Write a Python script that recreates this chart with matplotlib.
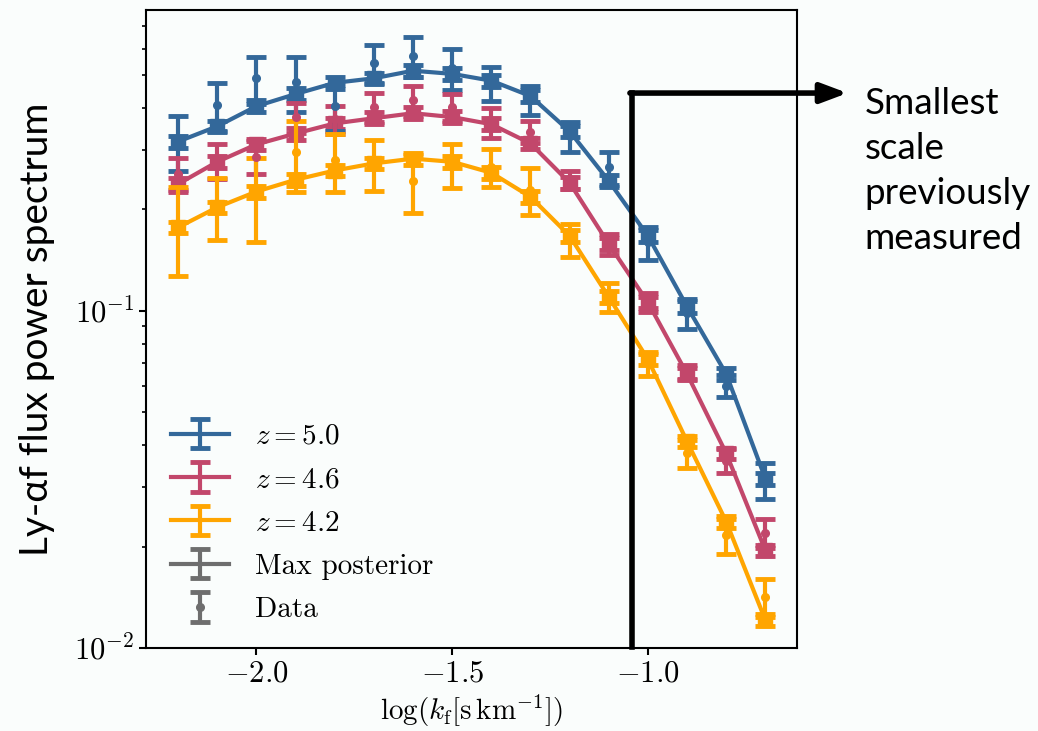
import numpy as np
import matplotlib
matplotlib.use("Agg")
from matplotlib import pyplot as plt

# log k_f bins
log_k = [-2.2, -2.1, -2.0, -1.9, -1.8, -1.7, -1.6, -1.5,
         -1.4, -1.3, -1.2, -1.1, -1.0, -0.9, -0.8, -0.7]

# max posterior (model) values
model_z50 = [0.318, 0.353, 0.405, 0.440, 0.475, 0.490, 0.516, 0.505,
             0.482, 0.434, 0.341, 0.243, 0.167, 0.103, 0.065, 0.0318]
model_z46 = [0.238, 0.277, 0.312, 0.336, 0.360, 0.373, 0.386, 0.376,
             0.358, 0.314, 0.240, 0.158, 0.106, 0.065, 0.0378, 0.0195]
model_z42 = [0.177, 0.203, 0.226, 0.245, 0.261, 0.274, 0.283, 0.277,
             0.257, 0.218, 0.167, 0.110, 0.0718, 0.041, 0.0237, 0.0121]

# data points and errors
data_z50 = [0.320, 0.408, 0.490, 0.478, 0.405, 0.545, 0.572, 0.525,
            0.475, 0.423, 0.330, 0.267, 0.160, 0.0986, 0.060, 0.0315]
err_z50 = [0.060, 0.066, 0.078, 0.090, 0.062, 0.072, 0.076, 0.072,
           0.055, 0.042, 0.033, 0.030, 0.018, 0.010, 0.0045, 0.0038]
data_z46 = [0.255, 0.280, 0.287, 0.376, 0.370, 0.403, 0.422, 0.403,
            0.362, 0.340, 0.245, 0.158, 0.106, 0.066, 0.036, 0.022]
err_z46 = [0.030, 0.033, 0.033, 0.038, 0.035, 0.040, 0.043, 0.037,
           0.037, 0.026, 0.015, 0.011, 0.007, 0.003, 0.003, 0.0022]
data_z42 = [0.180, 0.205, 0.222, 0.296, 0.281, 0.274, 0.243, 0.272,
            0.268, 0.229, 0.163, 0.110, 0.070, 0.0378, 0.0216, 0.0142]
err_z42 = [0.053, 0.043, 0.062, 0.070, 0.055, 0.047, 0.048, 0.040,
           0.035, 0.037, 0.018, 0.011, 0.0057, 0.0037, 0.0026, 0.0018]

labels = [r"$z = 5.0$", r"$z = 4.6$", r"$z = 4.2$"]
colors = ["#33689a", "#c2476b", "#ffa500"]
model_rel_err = 0.04

plt.rcParams["font.family"] = "serif"
plt.rcParams["font.serif"] = ["cmr10", "DejaVu Serif"]
plt.rcParams["mathtext.fontset"] = "cm"
plt.rcParams["axes.formatter.use_mathtext"] = True
plt.rcParams["axes.unicode_minus"] = True

bg = "#fafdfc"
fig = plt.figure(figsize=(10.38, 7.31), dpi=100, facecolor=bg)
ax = fig.add_axes([0.1407, 0.1135, 0.6272, 0.8725], facecolor=bg)

models = [model_z50, model_z46, model_z42]
datas = [data_z50, data_z46, data_z42]
errs = [err_z50, err_z46, err_z42]

for m, d, e, c in zip(models, datas, errs, colors):
    m = np.array(m)
    ax.errorbar(log_k, m, yerr=model_rel_err * m, fmt="s-", color=c, ms=9.5,
                lw=3, elinewidth=3, capsize=7, capthick=3.5, zorder=3)
    ax.errorbar(log_k, d, yerr=e, fmt="o", color=c, ms=5.5,
                elinewidth=3, capsize=7, capthick=3.5, zorder=4)

# legend proxies
handles = []
for lab, c in zip(labels, colors):
    handles.append(ax.errorbar([np.nan], [np.nan], yerr=[np.nan], fmt="-", color=c,
                               lw=3, elinewidth=3, capsize=7, capthick=3.5, label=lab))
handles.append(ax.errorbar([np.nan], [np.nan], yerr=[np.nan], fmt="-", color="#6e6e6e",
                           lw=3, elinewidth=3, capsize=7, capthick=3.5, label="Max posterior"))
handles.append(ax.errorbar([np.nan], [np.nan], yerr=[np.nan], fmt="o", color="#6e6e6e",
                           ms=5.5, elinewidth=3, capsize=7, capthick=3.5, label="Data"))
ax.legend(handles=handles, loc="lower left", frameon=False, fontsize=21,
          handlelength=2.0, handletextpad=0.9, labelspacing=0.58, borderaxespad=0.45)

ax.set_yscale("log")
ax.set_ylim(0.01, 0.78)
ax.set_xlim(-2.282, -0.619)
ax.set_xticks([-2.0, -1.5, -1.0])
ax.tick_params(labelsize=22, width=1.5, length=5)
ax.tick_params(which="minor", width=1.2, length=3)
for s in ax.spines.values():
    s.set_linewidth(1.5)

ax.set_xlabel(r"$\log(k_\mathrm{f}[\mathrm{s\,km}^{-1}])$", fontsize=21, labelpad=4)
ax.set_ylabel("Ly-αf flux power spectrum", fontsize=28, family="Lato", labelpad=14)

# smallest previously measured scale
x_cut = -1.04
y_cut = 0.443
ax.plot([x_cut, x_cut], [0.0101, y_cut], color="black", lw=4, clip_on=False, zorder=6)
ax.annotate("", xy=(-0.49, y_cut), xytext=(x_cut - 0.006, y_cut),
            xycoords="data", textcoords="data", annotation_clip=False,
            arrowprops=dict(arrowstyle="-|>,head_length=1.6,head_width=0.6",
                            color="black", lw=4, shrinkA=0, shrinkB=0), zorder=6)
fig.text(0.833, 0.766, "Smallest\nscale\npreviously\nmeasured", fontsize=26.5,
         family="Lato", va="center", ha="left", linespacing=1.45)

fig.savefig("out.png", dpi=100, facecolor=bg)
